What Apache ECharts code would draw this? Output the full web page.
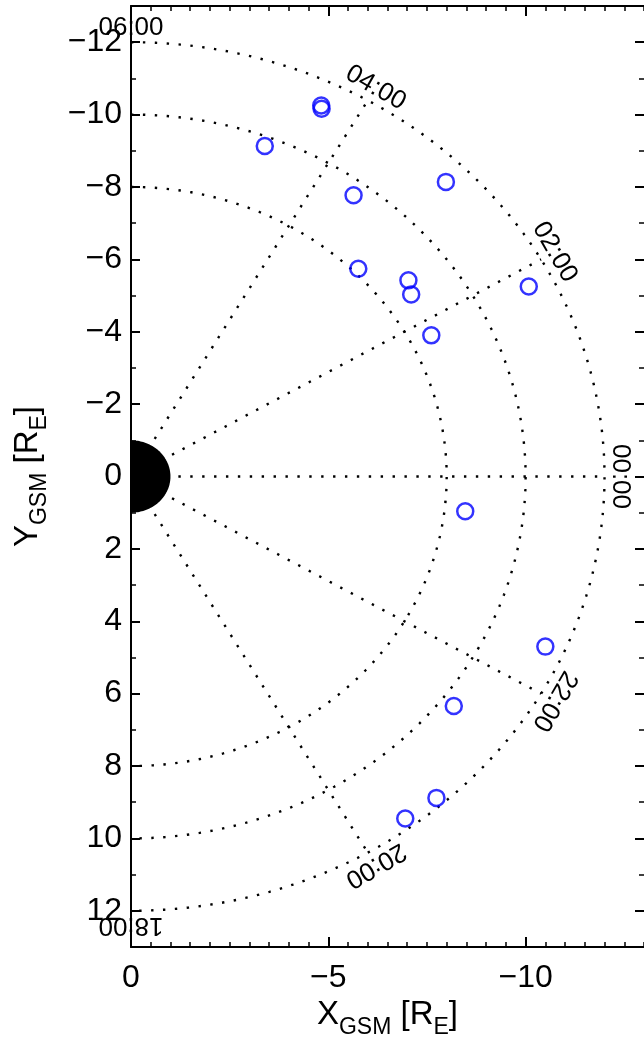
<!DOCTYPE html>
<html>
<head>
<meta charset="utf-8">
<script src="https://cdn.jsdelivr.net/npm/echarts@6/dist/echarts.min.js"></script>
<style>
html,body{margin:0;padding:0;background:#fff;}
#chart{width:644px;height:1046px;}
</style>
</head>
<body>
<div id="chart"></div>
<script>
// ---- data ----
const obsX = [-4.82, -4.83, -3.39, -7.98, -5.64, -5.76, -7.03, -7.10, -10.08, -7.61, -8.47, -10.50, -8.18, -7.74, -6.95];
const obsY = [-10.25, -10.16, -9.13, -8.14, -7.77, -5.74, -5.42, -5.03, -5.25, -3.90, 0.96, 4.70, 6.34, 8.88, 9.45];
const ringRadii = [8, 10, 12];
const radialHours = [0, 2, 4, 20, 22];
const mltLabels = ['06:00', '04:00', '02:00', '00:00', '22:00', '20:00', '18:00'];
const mltHours = [6, 4, 2, 0, 22, 20, 18];
const xTickValues = [0, -5, -10];
const yTickValues = [-12, -10, -8, -6, -4, -2, 0, 2, 4, 6, 8, 10, 12];
const earthRadius = 1;
const radialStart = 1.2;
const radialEnd = 12;
const labelRadius = 12.4;

// ---- helpers ----
function hourAngle(h) { return (h > 12 ? h - 24 : h) * 15; } // degrees, positive toward -Y
function polarToXY(r, deg) {
  const a = deg * Math.PI / 180;
  return [-r * Math.cos(a), -r * Math.sin(a)];
}
const fmt = v => String(v).replace('-', '\u2212');

const dotStyle = { color: '#000', width: 2.4, type: [2.4, 9.5] };
const gridSeries = [];
ringRadii.forEach(r => {
  const pts = [];
  for (let d = 90; d >= -90; d -= 1) pts.push(polarToXY(r, d));
  gridSeries.push({
    type: 'line', data: pts, showSymbol: false, symbol: 'none', silent: true,
    lineStyle: dotStyle, z: 1
  });
});
radialHours.forEach(h => {
  const d = hourAngle(h);
  gridSeries.push({
    type: 'line', data: [polarToXY(radialStart, d), polarToXY(radialEnd, d)],
    showSymbol: false, symbol: 'none', silent: true,
    lineStyle: dotStyle, z: 1
  });
});

const earthPts = [];
for (let d = 90; d >= -90; d -= 2) earthPts.push(polarToXY(earthRadius, d));

const labelData = mltHours.map(h => {
  const d = hourAngle(h);
  const p = polarToXY(labelRadius, d);
  return [p[0], p[1], d];
});

const obsData = obsX.map((x, i) => [x, obsY[i]]);

const font = 'Liberation Sans, Arial, Helvetica, sans-serif';
const axisColor = '#000';
const nameRich = {
  m: { fontSize: 33, fontFamily: font, color: '#000', lineHeight: 40, verticalAlign: 'top' },
  s: { fontSize: 23, fontFamily: font, color: '#000', lineHeight: 14, verticalAlign: 'bottom' }
};

function xAxisDef(pos, major, withLabel) {
  const a = {
    type: 'value', gridIndex: 0, position: pos, min: -13, max: 0, inverse: true,
    splitLine: { show: false },
    axisLine: { show: major, onZero: false, lineStyle: { color: axisColor, width: 2 } },
    axisTick: { show: true, inside: true, length: major ? 10 : 5, lineStyle: { color: axisColor, width: major ? 2 : 1.5 } },
    axisLabel: { show: false }
  };
  if (major) {
    a.axisTick.customValues = xTickValues;
    if (withLabel) {
      a.axisLabel = { show: true, customValues: xTickValues, formatter: fmt, fontSize: 32, color: '#000', fontFamily: font, margin: 15 };
      a.name = '{m|X}{s|GSM}{m| [R}{s|E}{m|]}';
      a.nameLocation = 'middle';
      a.nameGap = 40;
      a.nameTextStyle = { rich: nameRich };
    }
  } else {
    a.interval = 0.5;
  }
  return a;
}
function yAxisDef(pos, major, withLabel) {
  const a = {
    type: 'value', gridIndex: 0, position: pos, min: -13, max: 13, inverse: true,
    splitLine: { show: false },
    axisLine: { show: major && pos === 'left', onZero: false, lineStyle: { color: axisColor, width: 2 } },
    axisTick: { show: true, inside: true, length: major ? 9 : 5, lineStyle: { color: axisColor, width: major ? 2 : 1.5 } },
    axisLabel: { show: false }
  };
  if (major) {
    a.axisTick.customValues = yTickValues;
    if (withLabel) {
      a.axisLabel = { show: true, customValues: yTickValues, formatter: fmt, fontSize: 32, color: '#000', fontFamily: font, margin: 9 };
      a.name = '{m|Y}{s|GSM}{m| [R}{s|E}{m|]}';
      a.nameLocation = 'middle';
      a.nameGap = 80;
      a.nameTextStyle = { rich: nameRich };
    }
  } else {
    a.interval = 1;
  }
  return a;
}

const chart = echarts.init(document.getElementById('chart'), null, { renderer: 'canvas' });
chart.setOption({
  animation: false,
  backgroundColor: '#fff',
  grid: { left: 131, top: 6, width: 514, height: 941, containLabel: false, show: false },
  xAxis: [xAxisDef('bottom', true, true), xAxisDef('bottom', false), xAxisDef('top', true, false), xAxisDef('top', false)],
  yAxis: [yAxisDef('left', true, true), yAxisDef('left', false), yAxisDef('right', true, false), yAxisDef('right', false)],
  series: gridSeries.concat([
    {
      type: 'custom', data: [[0, 0]], silent: true, z: 3,
      renderItem: function (params, api) {
        return {
          type: 'polygon',
          shape: { points: earthPts.map(p => api.coord(p)) },
          style: { fill: '#000', stroke: null }
        };
      }
    },
    {
      type: 'custom', data: labelData, silent: true, z: 4,
      clip: false,
      renderItem: function (params, api) {
        const c = api.coord([api.value(0), api.value(1)]);
        const d = api.value(2);
        return {
          type: 'text', x: c[0], y: c[1],
          rotation: -(90 - d) * Math.PI / 180,
          style: {
            text: mltLabels[params.dataIndex], fontSize: 26, fontFamily: font,
            fill: '#000', align: 'center', verticalAlign: 'middle'
          }
        };
      }
    },
    {
      type: 'scatter', data: obsData, symbol: 'circle', symbolSize: 16, z: 5,
      itemStyle: { color: 'rgba(0,0,0,0)', borderColor: '#0000ff', borderWidth: 2.5 }
    }
  ])
});
</script>
</body>
</html>
